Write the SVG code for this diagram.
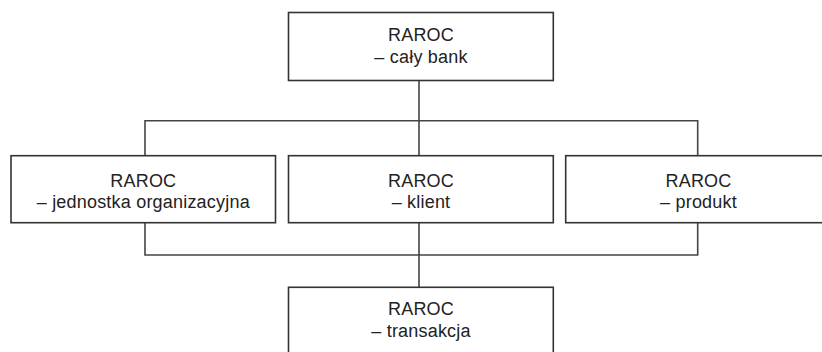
<svg xmlns="http://www.w3.org/2000/svg" width="822" height="352" viewBox="0 0 822 352">
<style>
.box{fill:#fff;stroke:#333;stroke-width:1.6}
.ln{fill:none;stroke:#444;stroke-width:1.6}
text{font-family:"Liberation Sans",Arial,sans-serif;font-size:18px;letter-spacing:0.2px;fill:#222;text-anchor:middle}
</style>
<rect width="822" height="352" fill="#fff"/>
<g id="connectors">
<path class="ln" d="M419 80.7V155.7M145 155.7V120.7H697.7V155.7"/>
<path class="ln" d="M145 222.7V255H697.7V222.7M419 222.7V287.3"/>
</g>
<g id="bank">
<rect class="box" x="288.5" y="12.5" width="264.8" height="68"/>
<text x="421" y="41">RAROC</text>
<text x="421" y="63">– cały bank</text>
</g>
<g id="jednostka">
<rect class="box" x="11" y="155.7" width="264.5" height="67"/>
<text x="143.3" y="186.5">RAROC</text>
<text x="143.3" y="208.3">– jednostka organizacyjna</text>
</g>
<g id="klient">
<rect class="box" x="288.5" y="155.7" width="264.8" height="67"/>
<text x="421" y="186.5">RAROC</text>
<text x="421" y="208.3">– klient</text>
</g>
<g id="produkt">
<rect class="box" x="565.7" y="155.7" width="265" height="67"/>
<text x="698.5" y="186.5">RAROC</text>
<text x="698.5" y="208.3">– produkt</text>
</g>
<g id="transakcja">
<rect class="box" x="288.5" y="287.3" width="264.8" height="70"/>
<text x="421" y="315">RAROC</text>
<text x="421" y="336.5">– transakcja</text>
</g>
</svg>
